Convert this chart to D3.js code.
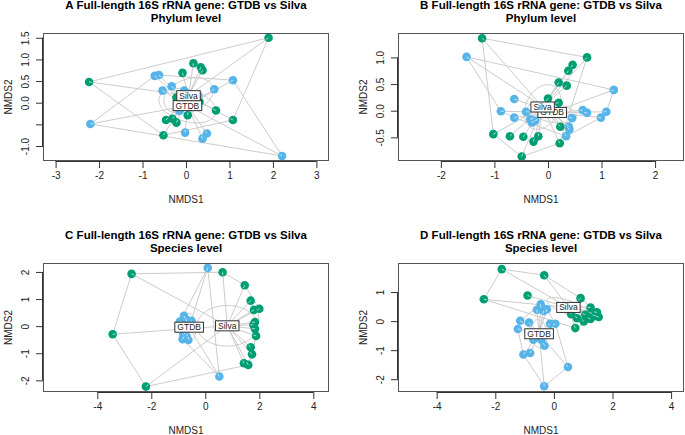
<!DOCTYPE html>
<html>
<head>
<meta charset="utf-8">
<script src="https://cdn.jsdelivr.net/npm/d3@7"></script>
<style>
  body { margin: 0; background: #fff; }
  svg { font-family: "Liberation Sans", Arial, sans-serif; }
</style>
</head>
<body>
<svg id="chart" width="685" height="435"></svg>
<script>
// NMDS scores, [NMDS1, NMDS2]
const phylumFullGtdb = [
  [-0.72, 0.62], [-0.62, 0.64], [1.08, 0.52], [-0.33, 0.38], [-0.54, 0.28], [-0.04, 0.28],
  [0.65, 0.31], [0.28, 0.17], [-0.15, -0.19], [-2.20, -0.49], [-0.02, -0.69], [0.48, -0.71],
  [0.38, -0.83], [2.21, -1.23]
];
const phylumFullSilva = [
  [1.90, 1.50], [0.17, 0.91], [0.34, 0.82], [0.38, 0.75], [-0.08, 0.69], [-2.23, 0.48],
  [-0.22, 0.12], [0.31, 0.02], [0.69, -0.18], [1.08, -0.40], [-0.46, -0.40], [-0.31, -0.37],
  [-0.22, -0.46], [0.04, -0.29], [-0.52, -0.75]
];
const phylumBGtdb = [
  [-1.52, 1.01], [1.23, 0.39], [-0.63, 0.22], [-0.88, -0.01], [-0.41, -0.02], [-0.63, -0.13],
  [-0.33, -0.16], [-0.24, -0.19], [-0.30, -0.22], [0.65, 0.01], [0.73, -0.04], [1.09, -0.02],
  [0.99, -0.13], [0.45, -0.14], [0.39, -0.30], [0.40, -0.35], [0.34, -0.48]
];
const phylumBSilva = [
  [-1.23, 1.36], [0.73, 1.00], [0.46, 0.86], [0.38, 0.75], [0.20, 0.53], [0.35, 0.47],
  [0.00, 0.23], [0.20, 0.15], [0.23, -0.30], [-1.02, -0.44], [-0.71, -0.48], [-0.46, -0.49],
  [-0.18, -0.48], [-0.27, -0.58], [0.22, -0.61], [-0.49, -0.86]
];
const speciesCGtdb = [
  [0.09, 2.15], [0.52, -1.86], [-0.79, 0.38], [-0.51, 0.20], [-0.84, 0.05], [-0.88, -0.14],
  [-0.69, -0.38], [-0.63, -0.51], [-0.94, 0.17], [-0.75, -0.20], [-0.81, -0.32], [-0.57, -0.01],
  [-0.72, 0.26], [-0.84, -0.48], [-0.62, 0.11]
];
const speciesCSilva = [
  [-2.73, 1.93], [0.64, 1.99], [1.46, 1.51], [1.68, 0.94], [1.80, 0.60], [2.00, 0.64],
  [1.84, 0.15], [1.84, -0.10], [1.88, -0.36], [1.68, -0.78], [1.73, -1.04], [1.43, -1.37],
  [1.59, -1.43], [-3.43, -0.30], [-2.20, -2.23], [1.78, 0.05]
];
const speciesDGtdb = [
  [-0.45, 0.58], [-0.58, 0.39], [-0.35, 0.35], [-0.24, 0.41], [-1.15, 0.01], [-0.85, -0.05],
  [-1.23, -0.27], [-0.13, -0.09], [0.05, -0.09], [-0.70, -0.64], [-0.43, -0.64], [-0.32, -0.85],
  [-1.04, -1.15], [-0.81, -1.10], [0.48, -1.58], [-0.33, -2.24]
];
const speciesDSilva = [
  [-1.78, 1.79], [-0.33, 1.58], [-2.39, 0.75], [-0.90, 0.88], [0.91, 0.79], [1.25, 0.47],
  [1.47, 0.30], [1.53, 0.14], [1.30, 0.27], [1.07, 0.22], [0.79, 0.10], [1.02, -0.01],
  [0.73, -0.24], [1.25, 0.07], [0.59, 0.24], [1.42, 0.18]
];

const titles = [
  ["A Full-length 16S rRNA gene: GTDB vs Silva", "Phylum level"],
  ["B Full-length 16S rRNA gene: GTDB vs Silva", "Phylum level"],
  ["C Full-length 16S rRNA gene: GTDB vs Silva", "Species level"],
  ["D Full-length 16S rRNA gene: GTDB vs Silva", "Species level"]
];
const xTicksA = [-3, -2, -1, 0, 1, 2, 3];
const yTicksA = [1.5, 1.0, 0.5, 0.0, -0.5, -1.0];
const xTicksB = [-2, -1, 0, 1, 2];
const yTicksB = [1.0, 0.5, 0.0, -0.5];
const xTicksC = [-4, -2, 0, 2, 4];
const yTicksC = [2, 1, 0, -1, -2];
const xTicksD = [-4, -2, 0, 2, 4];
const yTicksD = [1, 0, -1, -2];
const groupNames = ["GTDB", "Silva"];
const gtdbColor = "#56B4E9";
const silvaColor = "#009E73";

// panel layout (plot box in px, axis limits)
const panels = [
  { gtdb: phylumFullGtdb, silva: phylumFullSilva, title: titles[0],
    box: [43, 329, 33, 161], xdom: [-3.29, 3.29], ydom: [-1.346, 1.61],
    xt: xTicksA, yt: yTicksA, yfmt: d => d === -0.5 ? "" : d.toFixed(1) },
  { gtdb: phylumBGtdb, silva: phylumBSilva, title: titles[1],
    box: [398, 684, 33, 161], xdom: [-2.80, 2.54], ydom: [-0.944, 1.458],
    xt: xTicksB, yt: yTicksB, yfmt: d => d.toFixed(1) },
  { gtdb: speciesCGtdb, silva: speciesCSilva, title: titles[2],
    box: [43, 329, 263, 392], xdom: [-6.01, 4.58], ydom: [-2.43, 2.33],
    xt: xTicksC, yt: yTicksC, yfmt: d => d },
  { gtdb: speciesDGtdb, silva: speciesDSilva, title: titles[3],
    box: [398, 684, 263, 392], xdom: [-5.32, 4.44], ydom: [-2.44, 2.0],
    xt: xTicksD, yt: yTicksD, yfmt: d => d }
];

const svg = d3.select("#chart");

// 95% confidence ellipse of the centroid (vegan ordiellipse kind="se")
function seEllipse(pts) {
  const n = pts.length;
  const mx = d3.mean(pts, d => d[0]), my = d3.mean(pts, d => d[1]);
  let sxx = 0, syy = 0, sxy = 0;
  pts.forEach(d => {
    sxx += (d[0] - mx) ** 2; syy += (d[1] - my) ** 2; sxy += (d[0] - mx) * (d[1] - my);
  });
  sxx /= n - 1; syy /= n - 1; sxy /= n - 1;
  const k = Math.sqrt(5.991) / Math.sqrt(n);
  // cholesky
  const a = Math.sqrt(sxx), b = sxy / a, c = Math.sqrt(Math.max(syy - b * b, 0));
  return d3.range(0, 61).map(i => {
    const t = i / 60 * 2 * Math.PI;
    const u = Math.cos(t), v = Math.sin(t);
    return [mx + k * a * u, my + k * (b * u + c * v)];
  });
}

panels.forEach(p => {
  const [l, r, t, b] = p.box;
  const x = d3.scaleLinear().domain(p.xdom).range([l, r]);
  const y = d3.scaleLinear().domain(p.ydom).range([b, t]);
  const g = svg.append("g");
  const cx = (l + r) / 2;

  // titles
  g.append("text").attr("x", cx).attr("y", 9).attr("dy", t > 100 ? 230 : 0)
    .attr("text-anchor", "middle").attr("font-weight", "bold").attr("font-size", 11.5)
    .text(p.title[0]);
  g.append("text").attr("x", cx).attr("y", 22).attr("dy", t > 100 ? 230 : 0)
    .attr("text-anchor", "middle").attr("font-weight", "bold").attr("font-size", 11.5)
    .text(p.title[1]);

  // axes
  g.append("g").attr("transform", `translate(0,${b})`)
    .call(d3.axisBottom(x).tickValues(p.xt).tickSize(7).tickPadding(4).tickFormat(d => d))
    .call(a => a.select(".domain").attr("stroke", "#333").attr("d",
      `M${x(p.xt[0])},0.5H${x(p.xt[p.xt.length - 1])}`))
    .call(a => a.selectAll(".tick line").attr("stroke", "#333"))
    .call(a => a.selectAll("text").attr("font-size", 10).attr("fill", "#222")
      .attr("font-family", "Liberation Sans, Arial, sans-serif"));

  const ya = g.append("g").attr("transform", `translate(${l},0)`)
    .call(d3.axisLeft(y).tickValues(p.yt).tickSize(7).tickFormat(p.yfmt));
  ya.select(".domain").attr("stroke", "#333").attr("d",
    `M-0.5,${y(p.yt[0])}V${y(p.yt[p.yt.length - 1])}`);
  ya.selectAll(".tick line").attr("stroke", "#333");
  ya.selectAll(".tick text").attr("font-size", 10).attr("fill", "#222")
    .attr("font-family", "Liberation Sans, Arial, sans-serif")
    .attr("x", 0).attr("dy", 0)
    .attr("transform", "translate(-14,0) rotate(-90)")
    .attr("text-anchor", "middle");

  g.append("text").attr("x", cx).attr("y", b + 42).attr("text-anchor", "middle")
    .attr("font-size", 10).attr("fill", "#222").text("NMDS1");
  g.append("text").attr("transform", `translate(${l - 31},${(t + b) / 2}) rotate(-90)`)
    .attr("text-anchor", "middle").attr("font-size", 10).attr("fill", "#222").text("NMDS2");

  // plot region
  const plot = g.append("g");
  const groups = [
    { pts: p.gtdb, col: gtdbColor, name: groupNames[0] },
    { pts: p.silva, col: silvaColor, name: groupNames[1] }
  ];
  groups.forEach(gr => {
    gr.cen = [d3.mean(gr.pts, d => d[0]), d3.mean(gr.pts, d => d[1])];
  });
  const line = d3.line().x(d => x(d[0])).y(d => y(d[1]));

  groups.forEach(gr => {
    const hull = d3.polygonHull(gr.pts);
    plot.append("path").attr("d", line(hull) + "Z")
      .attr("fill", "none").attr("stroke", "#cccccc").attr("stroke-width", 1);
    plot.append("path").attr("d", line(seEllipse(gr.pts)))
      .attr("fill", "none").attr("stroke", "#cccccc").attr("stroke-width", 1);
    plot.selectAll(null).data(gr.pts).enter().append("line")
      .attr("x1", x(gr.cen[0])).attr("y1", y(gr.cen[1]))
      .attr("x2", d => x(d[0])).attr("y2", d => y(d[1]))
      .attr("stroke", "#cccccc").attr("stroke-width", 1);
  });

  groups.forEach(gr => {
    plot.selectAll(null).data(gr.pts).enter().append("circle")
      .attr("cx", d => x(d[0])).attr("cy", d => y(d[1])).attr("r", 4.3)
      .attr("fill", gr.col);
    // faint spider stub over each point
    plot.selectAll(null).data(gr.pts).enter().append("line")
      .attr("x1", d => x(d[0])).attr("y1", d => y(d[1]))
      .attr("x2", d => {
        const dx = x(gr.cen[0]) - x(d[0]), dy = y(gr.cen[1]) - y(d[1]);
        const len = Math.hypot(dx, dy) || 1;
        return x(d[0]) + dx / len * 3;
      })
      .attr("y2", d => {
        const dx = x(gr.cen[0]) - x(d[0]), dy = y(gr.cen[1]) - y(d[1]);
        const len = Math.hypot(dx, dy) || 1;
        return y(d[1]) + dy / len * 3;
      })
      .attr("stroke", "#ffffff").attr("stroke-opacity", 0.8).attr("stroke-width", 0.8);
  });

  // centroid labels, Silva on top
  groups.forEach(gr => {
    const lg = plot.append("g").attr("transform", `translate(${x(gr.cen[0])},${y(gr.cen[1])})`);
    const txt = lg.append("text").attr("text-anchor", "middle").attr("dy", "0.35em")
      .attr("font-size", 8.5).attr("fill", "#222").text(gr.name);
    const w = txt.node().getComputedTextLength();
    lg.insert("rect", "text").attr("x", -w / 2 - 2.5).attr("y", -5)
      .attr("width", w + 5).attr("height", 10)
      .attr("fill", "#fff").attr("stroke", "#333").attr("stroke-width", 1);
  });

  g.append("rect").attr("x", l + 0.5).attr("y", t + 0.5)
    .attr("width", r - l - 1).attr("height", b - t - 1)
    .attr("fill", "none").attr("stroke", "#555").attr("stroke-width", 1);
});
</script>
</body>
</html>
